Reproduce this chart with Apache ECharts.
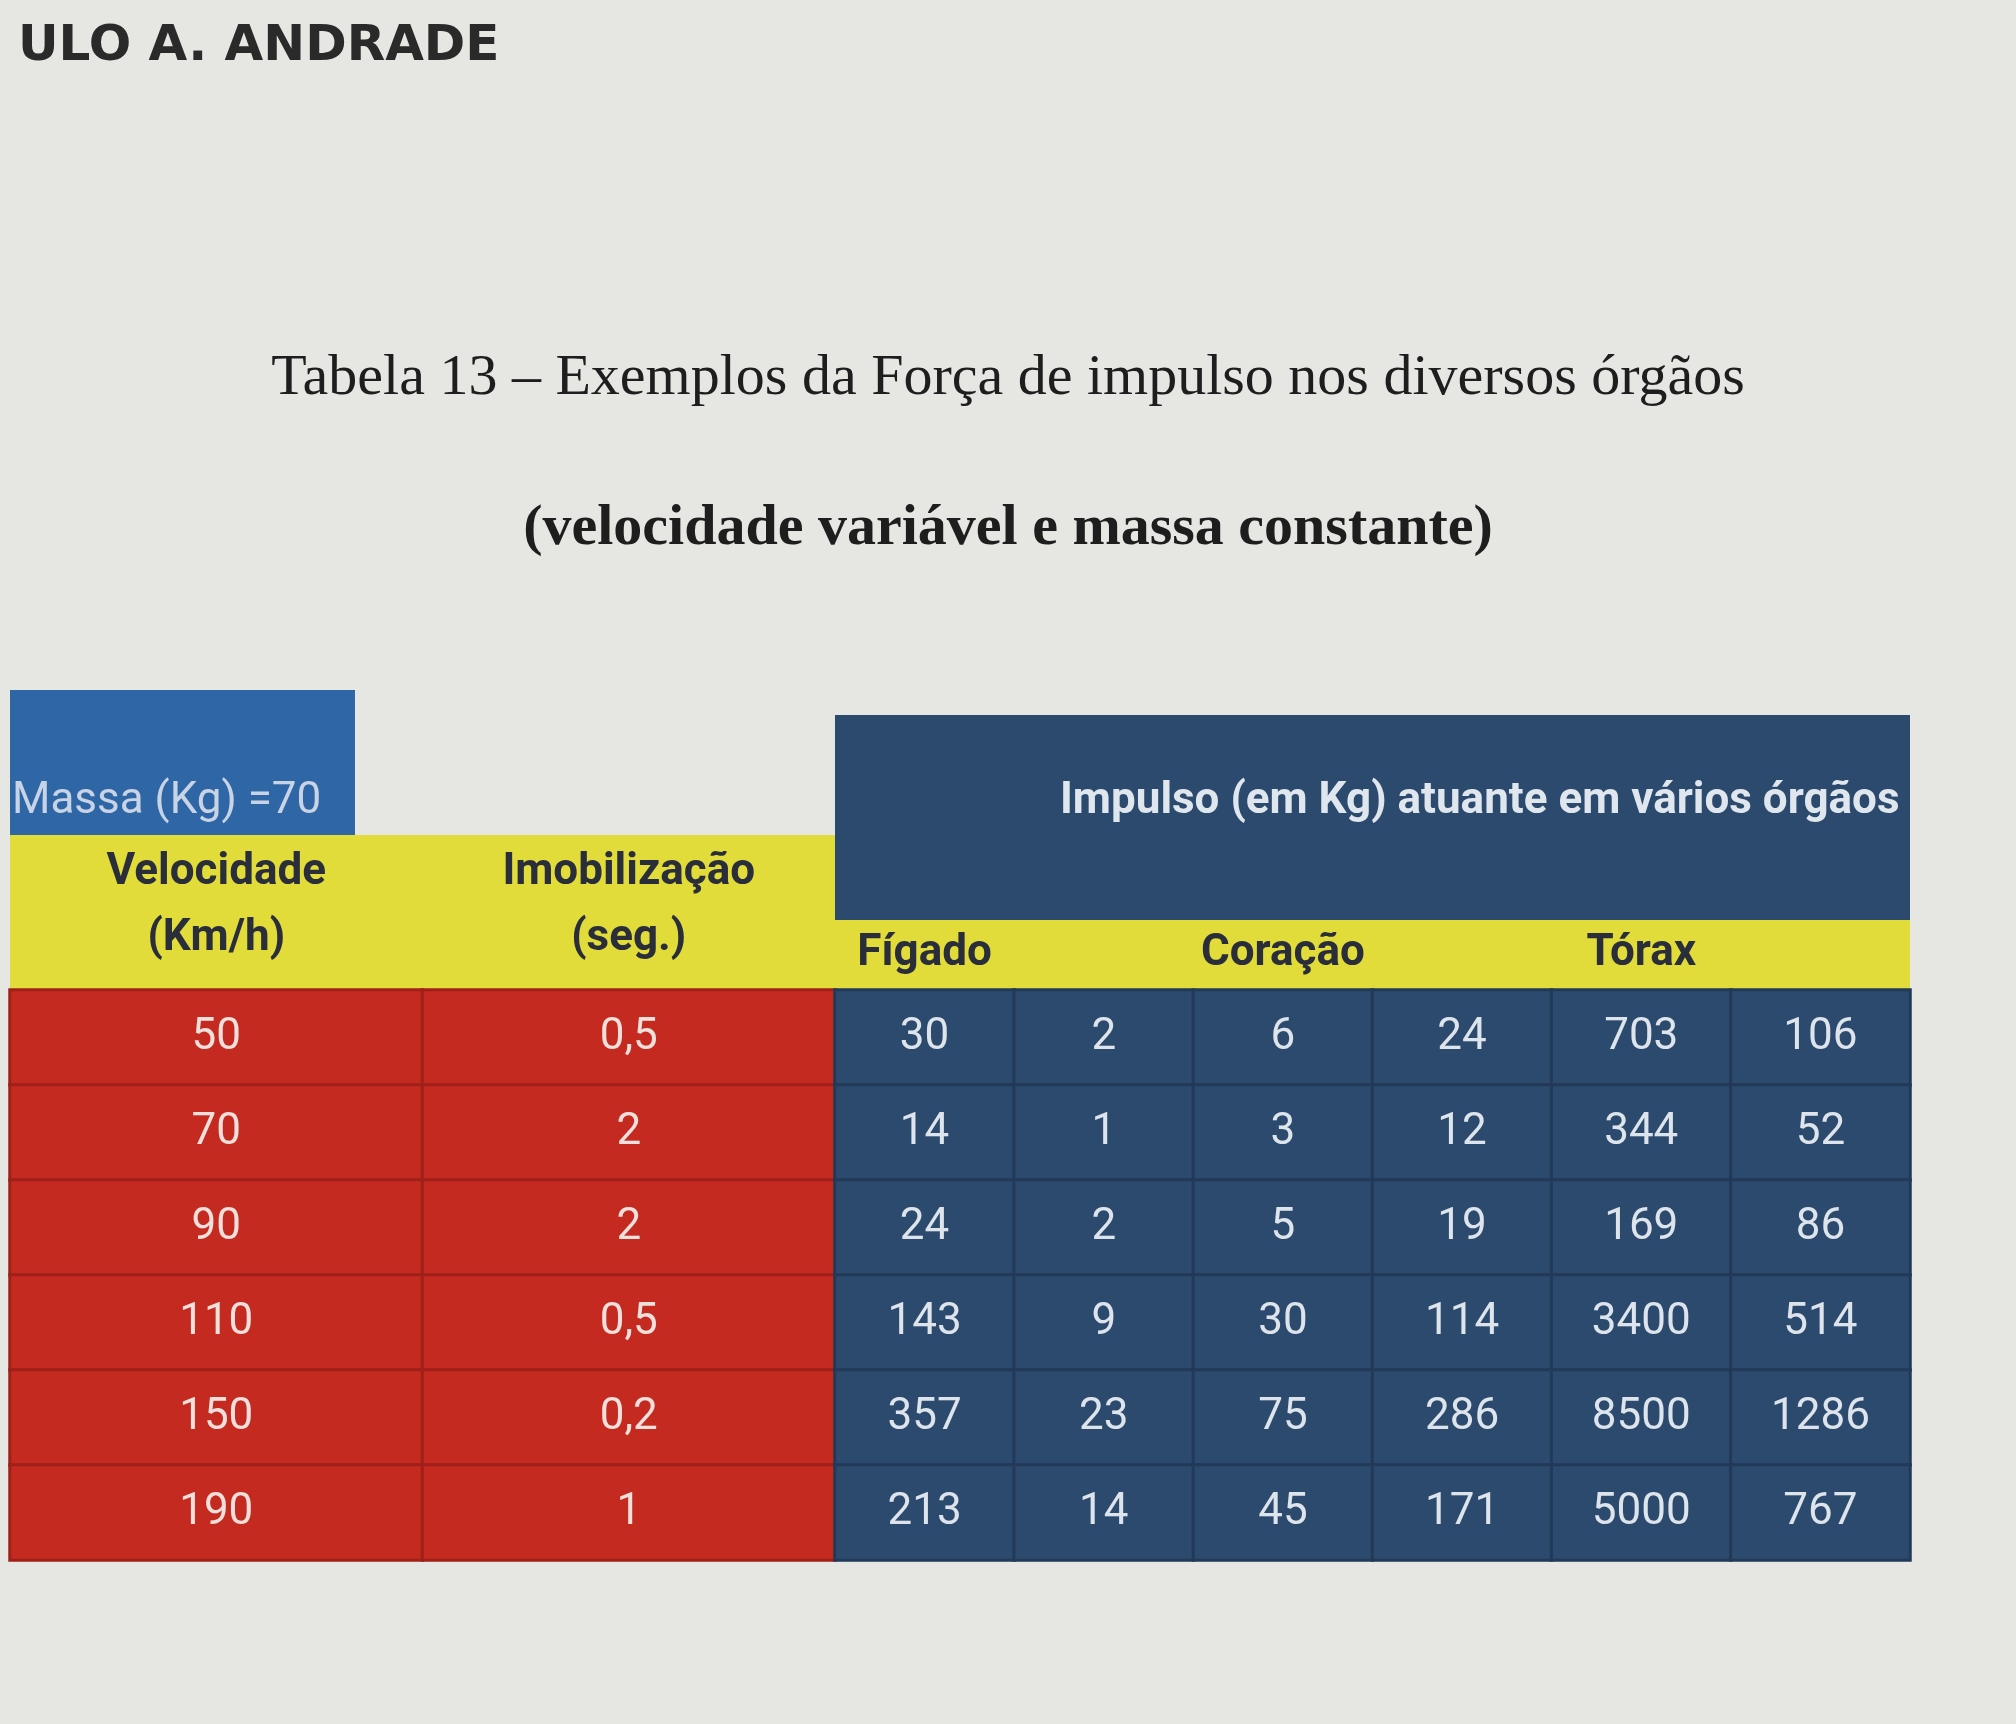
<!DOCTYPE html>
<html><head><meta charset="utf-8">
<script src="https://cdn.jsdelivr.net/npm/echarts@6/dist/echarts.min.js"></script>
<style>html,body{margin:0;background:#e6e7e3}#c{width:2016px;height:1724px}</style>
</head><body><div id="c"></div>
<script>
const velocidade = ['50','70','90','110','150','190'];
const imobilizacao = ['0,5','2','2','0,5','0,2','1'];
const leftCols = ['Velocidade\n(Km/h)', 'Imobilização\n(seg.)'];
const organs = ['Fígado','Baço','Coração','Cérebro','Tórax','Cabeça'];
const figado = [30,14,24,143,357,213];
const baco = [2,1,2,9,23,14];
const coracao = [6,3,5,30,75,45];
const cerebro = [24,12,19,114,286,171];
const torax = [703,344,169,3400,8500,5000];
const cabeca = [106,52,86,514,1286,767];
const rows = ['r1','r2','r3','r4','r5','r6'];

(function(){
const organVals = [figado,baco,coracao,cerebro,torax,cabeca];
const leftData = [], rightData = [];
rows.forEach((r,i)=>{
  leftData.push({value:[0,i,1],label:{formatter:velocidade[i]}});
  leftData.push({value:[1,i,1],label:{formatter:imobilizacao[i]}});
  organVals.forEach((arr,j)=>rightData.push({value:[j,i,arr[i]],label:{formatter:String(arr[i])}}));
});
const chart = echarts.init(document.getElementById('c'));
const F = '"Liberation Sans Narrow", Roboto, sans-serif';
const gTop = 990, gH = 570;
chart.setOption({
  backgroundColor:'#e6e7e3',
  textStyle:{fontFamily:F},
  graphic:[
    {type:'text',left:18,top:22,style:{text:'ULO A. ANDRADE',font:'bold 50px "DejaVu Sans"',fill:'#2a2a2a'}},
    {type:'text',left:'center',top:350,style:{text:'Tabela 13 – Exemplos da Força de impulso nos diversos órgãos',font:'58px "Liberation Serif"',fill:'#1e1e1e'}},
    {type:'text',left:'center',top:500,style:{text:'(velocidade variável e massa constante)',font:'bold 58px "Liberation Serif"',fill:'#1e1e1e'}},
    {type:'rect',shape:{x:10,y:690,width:345,height:150},style:{fill:'#2f66a6'}},
    {type:'text',left:12,top:780,style:{text:'Massa (Kg) =70',font:'44px '+F,fill:'#c8d4e6'}},
    {type:'rect',shape:{x:10,y:835,width:825,height:155},style:{fill:'#e1dc3a'}},
    {type:'rect',shape:{x:835,y:715,width:1075,height:205},style:{fill:'#2c4a6e'}},
    {type:'text',left:1060,top:780,style:{text:'Impulso (em Kg) atuante em vários órgãos',font:'bold 44px '+F,fill:'#dfe6ee'}},
    {type:'rect',shape:{x:835,y:920,width:1075,height:70},style:{fill:'#e1dc3a'}}
  ],
  grid:[
    {left:10,width:825,top:gTop,height:gH},
    {left:835,width:1075,top:gTop,height:gH}
  ],
  xAxis:[
    {type:'category',gridIndex:0,data:leftCols,position:'top',axisLine:{show:false},axisTick:{show:false},splitLine:{show:false},
     axisLabel:{margin:18,fontSize:44,fontWeight:'bold',color:'#2a2e3a',lineHeight:66}},
    {type:'category',gridIndex:1,data:organs,position:'top',axisLine:{show:false},axisTick:{show:false},splitLine:{show:false},
     axisLabel:{margin:14,fontSize:44,fontWeight:'bold',color:'#2a2e3a'}}
  ],
  yAxis:[
    {type:'category',gridIndex:0,data:rows,inverse:true,show:false},
    {type:'category',gridIndex:1,data:rows,inverse:true,show:false}
  ],
  series:[
    {type:'heatmap',xAxisIndex:0,yAxisIndex:0,data:leftData,
     itemStyle:{color:'#c42a20',borderColor:'#9e2018',borderWidth:3},
     label:{show:true,fontSize:44,color:'#efe0dc',fontFamily:F},emphasis:{disabled:true}},
    {type:'heatmap',xAxisIndex:1,yAxisIndex:1,data:rightData,
     itemStyle:{color:'#2c4a6e',borderColor:'#223a58',borderWidth:3},
     label:{show:true,fontSize:44,color:'#dde4ec',fontFamily:F},emphasis:{disabled:true}}
  ]
});
})();
</script></body></html>
